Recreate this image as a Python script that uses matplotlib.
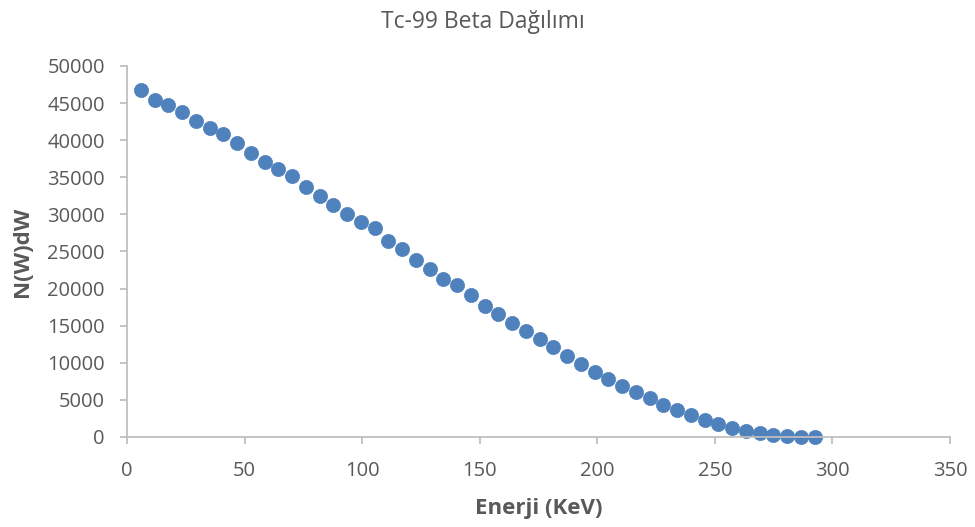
import matplotlib.pyplot as plt

# Tc-99 beta spectrum: energy bins (keV) and counts
energy = [5.85, 11.7, 17.55, 23.4, 29.25, 35.1, 40.95, 46.8, 52.65, 58.5,
          64.35, 70.2, 76.05, 81.9, 87.75, 93.6, 99.45, 105.3, 111.15, 117.0,
          122.85, 128.7, 134.55, 140.4, 146.25, 152.1, 157.95, 163.8, 169.65, 175.5,
          181.35, 187.2, 193.05, 198.9, 204.75, 210.6, 216.45, 222.3, 228.15, 234.0,
          239.85, 245.7, 251.55, 257.4, 263.25, 269.1, 274.95, 280.8, 286.65, 292.5]
counts = [46800, 45400, 44800, 43750, 42600, 41700, 40900, 39600, 38300, 37100,
          36100, 35200, 33700, 32500, 31300, 30000, 29000, 28100, 26400, 25400,
          23800, 22650, 21300, 20450, 19150, 17700, 16600, 15400, 14300, 13150,
          12100, 10900, 9850, 8800, 7800, 6900, 6100, 5300, 4300, 3650,
          2900, 2300, 1750, 1250, 800, 500, 230, 80, 20, 2]

xticks = [0, 50, 100, 150, 200, 250, 300, 350]
yticks = [0, 5000, 10000, 15000, 20000, 25000, 30000, 35000, 40000, 45000, 50000]

plt.rcParams['font.family'] = ['Open Sans', 'DejaVu Sans']

fig = plt.figure(figsize=(9.75, 5.27), dpi=100)
ax = fig.add_axes([0.1303, 0.1708, 0.844, 0.704])

ax.plot(energy, counts, 'o', color='#4F81BD', markersize=10.2,
        markeredgecolor='#4F81BD', markeredgewidth=0.5, clip_on=False)

ax.set_xlim(0, 350)
ax.set_ylim(0, 50000)
ax.set_xticks(xticks)
ax.set_yticks(yticks)

for s in ['top', 'right']:
    ax.spines[s].set_visible(False)
for s in ['left', 'bottom']:
    ax.spines[s].set_color('#BFBFBF')
    ax.spines[s].set_linewidth(1.3)

ax.tick_params(axis='both', colors='#BFBFBF', labelcolor='#595959',
               labelsize=14.5, length=5, width=1.3)
ax.tick_params(axis='x', pad=12)
ax.tick_params(axis='y', pad=11)

fig.text(0.495, 0.958, 'Tc-99 Beta Dağılımı', fontsize=16.5, color='#595959',
         ha='center', va='center')
ax.set_xlabel('Enerji (KeV)', fontsize=16, fontweight='bold', color='#595959')
ax.set_ylabel('N(W)dW', fontsize=16, fontweight='bold', color='#595959')
ax.xaxis.set_label_coords(0.5, -0.165)
ax.yaxis.set_label_coords(-0.114, 0.5)

fig.savefig('out.png', dpi=100)
